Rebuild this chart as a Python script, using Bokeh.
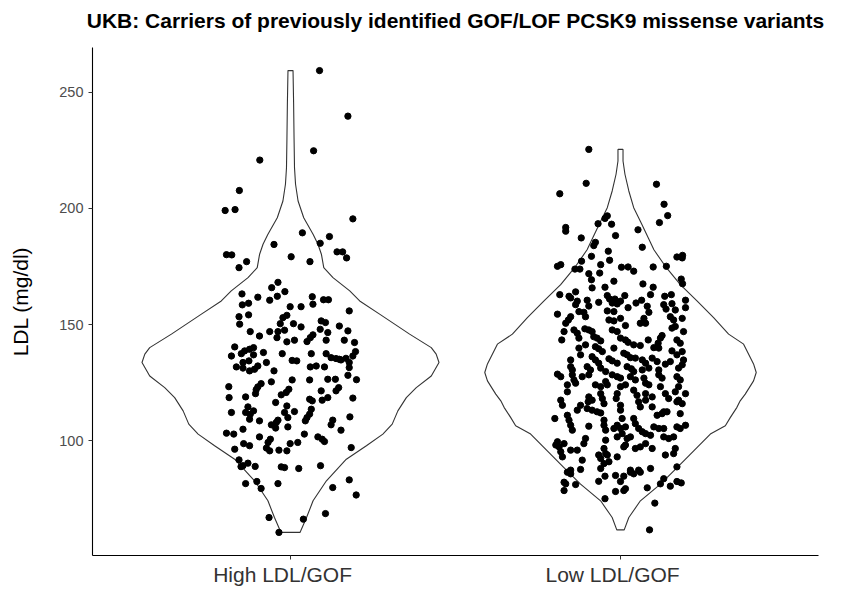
import numpy as np
from bokeh.plotting import figure
from bokeh.models import Range1d, FixedTicker, LinearAxis
from bokeh.embed import file_html
from bokeh.resources import INLINE

title_text = "UKB: Carriers of previously identified GOF/LOF PCSK9 missense variants"
categories = ["High LDL/GOF", "Low LDL/GOF"]
y_label = "LDL (mg/dl)"
y_ticks = [100, 150, 200, 250]

# (horizontal jitter in category units, LDL mg/dl)
high_points = [
    (0.088, 259.3), (0.174, 239.7), (0.07, 224.8), (-0.093, 220.8), (-0.155, 207.7), (-0.198, 199.1),
    (-0.168, 199.5), (0.189, 195.5), (0.036, 189.5), (0.118, 187.9), (0.09, 185.0), (-0.05, 184.5),
    (-0.194, 180.1), (-0.178, 180.0), (0.141, 181.3), (0.158, 181.3), (0.17, 178.7), (0.002, 179.2),
    (0.059, 177.1), (-0.133, 177.1), (-0.156, 174.5), (-0.038, 168.2), (-0.057, 165.9), (-0.017, 164.2),
    (-0.04, 162.2), (-0.147, 163.2), (-0.099, 161.8), (0.066, 162.0), (0.1, 160.7), (0.115, 160.7),
    (-0.063, 160.5),
    (0.068, 158.8), (-0.146, 158.5), (-0.127, 159.2), (-0.001, 157.7), (0.032, 157.7), (0.178, 155.9),
    (-0.156, 153.4), (-0.127, 154.2), (-0.011, 154.0), (-0.023, 153.0), (-0.154, 150.2), (-0.031, 150.4),
    (0.009, 150.4), (0.032, 149.0), (0.093, 151.6), (0.106, 150.9), (0.148, 149.4), (-0.122, 147.0),
    (-0.063, 147.0), (-0.038, 147.0), (-0.018, 147.6), (0.09, 148.0), (0.113, 146.6), (0.174, 147.3),
    (-0.094, 145.1), (-0.041, 144.4), (0.068, 145.6), (0.06, 144.4), (-0.011, 142.6), (0.012, 143.3),
    (0.05, 142.7), (0.108, 143.3), (0.163, 143.3), (0.194, 142.3), (-0.169, 140.4), (-0.139, 138.7),
    (-0.124, 139.4), (-0.112, 140.1), (-0.149, 137.5), (-0.179, 136.5), (-0.112, 137.0), (-0.082, 138.0),
    (-0.025, 137.5), (0.063, 137.5), (0.108, 137.5), (0.197, 138.4), (0.189, 136.5), (0.123, 135.8),
    (0.148, 135.1), (0.168, 135.5), (0.178, 133.7), (0.005, 134.6), (0.019, 134.4), (-0.073, 133.7),
    (-0.099, 132.2), (-0.126, 134.4), (-0.164, 131.8), (-0.144, 131.3), (0.06, 131.8), (0.078, 132.2),
    (0.103, 131.8), (-0.05, 130.1), (-0.124, 130.1), (-0.109, 130.8), (-0.144, 133.7), (0.153, 134.8),
    (0.138, 135.4), (0.178, 131.5), (0.2, 126.3), (-0.104, 122.0),
    (0.174, 128.2), (0.005, 126.2), (0.058, 126.2), (0.113, 126.5), (0.136, 126.5), (-0.058, 125.4),
    (-0.089, 124.6), (-0.099, 123.2), (-0.187, 123.3), (-0.005, 122.2), (-0.013, 120.8), (-0.028, 119.8),
    (0.146, 122.9), (0.138, 121.5), (0.093, 121.5), (0.113, 118.6), (0.096, 117.5), (0.058, 117.9),
    (0.066, 117.2), (-0.106, 120.3), (-0.136, 118.9), (-0.186, 118.6), (0.189, 118.4), (-0.045, 116.5),
    (-0.011, 115.0), (-0.129, 114.6), (-0.112, 112.9), (-0.122, 111.4), (-0.136, 112.2), (-0.179, 112.2),
    (-0.018, 112.2), (0.012, 112.6), (0.063, 113.6), (0.058, 111.5), (0.05, 110.0), (-0.008, 110.0),
    (-0.124, 109.3), (-0.094, 108.6), (-0.038, 108.9), (-0.043, 107.9), (-0.048, 106.9), (-0.058, 106.9),
    (-0.045, 105.5), (-0.008, 106.0), (0.045, 108.6), (0.128, 108.9), (0.123, 106.9), (0.18, 110.3),
    (0.153, 104.6), (-0.144, 105.0), (-0.194, 103.3), (-0.172, 102.9), (0.042, 102.9), (-0.094, 101.7),
    (-0.061, 100.7), (-0.068, 99.3), (0.083, 101.7), (0.096, 100.7), (0.103, 99.7), (-0.001, 98.8),
    (0.022, 99.3), (-0.142, 98.8), (-0.124, 97.9), (-0.169, 96.4), (-0.073, 96.9), (-0.063, 95.7),
    (-0.035, 96.0), (-0.011, 95.7), (0.184, 97.1),
    (-0.156, 91.8), (-0.144, 89.3), (-0.129, 90.4), (-0.15, 88.9), (-0.107, 89.0), (-0.028, 88.8),
    (-0.018, 88.5), (0.025, 88.1), (0.091, 89.3), (-0.136, 81.6), (-0.102, 82.5), (-0.089, 79.5),
    (-0.038, 81.6), (0.178, 83.2), (0.128, 79.9), (0.199, 76.7), (-0.065, 67.0), (0.039, 66.3),
    (0.106, 68.7), (-0.035, 60.6),
]

low_points = [
    (-0.096, 225.4), (-0.104, 210.8), (-0.184, 206.3), (0.109, 210.4), (0.132, 201.8), (0.143, 196.9),
    (0.118, 193.9), (-0.04, 196.8), (-0.047, 195.7), (-0.068, 193.4), (-0.027, 193.2),
    (-0.166, 191.8), (-0.166, 190.2), (0.053, 190.8), (-0.015, 188.3), (-0.119, 187.3), (-0.076, 185.4),
    (-0.081, 184.0), (0.066, 183.3), (-0.037, 181.6), (-0.088, 179.4), (-0.033, 177.7), (0.171, 179.1),
    (0.188, 179.8), (0.187, 178.7), (-0.118, 177.3), (-0.181, 175.8), (-0.191, 175.1), (-0.06, 175.8),
    (0.003, 174.7), (0.023, 174.8), (0.04, 173.0), (0.099, 174.8), (0.139, 175.1), (-0.138, 173.9),
    (-0.123, 173.9), (-0.096, 171.9), (-0.063, 172.2), (-0.088, 169.3), (-0.02, 168.7), (0.184, 169.6),
    (0.188, 167.6), (0.068, 167.5), (-0.086, 165.8), (-0.047, 166.1), (0.099, 166.1), (-0.136, 164.1),
    (-0.184, 162.9), (-0.156, 162.2), (-0.151, 161.5), (-0.04, 162.5), (-0.033, 161.0), (-0.017, 161.0),
    (-0.025, 159.3), (-0.01, 158.9), (0.0, 160.1), (0.013, 162.5), (-0.101, 160.5), (-0.066, 159.6),
    (-0.131, 160.1), (-0.136, 158.6), (0.047, 159.3), (0.064, 160.5), (0.091, 162.9), (0.134, 162.2),
    (0.154, 162.9), (0.197, 160.5), (0.081, 157.9), (0.131, 158.6), (0.156, 159.0),
    (-0.096, 158.0), (-0.04, 155.9), (-0.02, 155.6), (0.023, 157.3), (0.086, 155.3), (0.138, 156.7),
    (0.166, 156.3), (0.197, 157.3), (-0.126, 155.6), (-0.111, 155.3),
    (-0.191, 154.5), (-0.151, 153.4), (-0.158, 152.0), (-0.166, 150.6), (-0.106, 153.4), (0.0, 152.7),
    (0.071, 152.7), (0.06, 150.6), (0.151, 153.4), (0.161, 152.0), (0.187, 152.7), (-0.035, 152.0),
    (-0.02, 151.6), (0.076, 150.6),
    (-0.141, 147.7), (-0.131, 146.3), (-0.108, 148.2), (-0.096, 147.7), (-0.086, 147.0), (-0.171, 147.0),
    (0.015, 149.6), (-0.025, 147.7), (-0.01, 147.0), (0.156, 148.5), (0.166, 149.2), (0.191, 147.0),
    (0.126, 145.3), (0.121, 144.2), (0.084, 143.4),
    (-0.081, 144.8), (-0.071, 144.2), (-0.06, 143.0), (-0.126, 144.2), (-0.178, 143.4), (0.0, 144.2),
    (0.015, 143.4), (0.023, 142.4), (0.04, 141.3), (0.06, 141.0), (0.114, 142.0), (0.101, 140.1),
    (0.116, 139.9), (0.171, 143.4), (0.181, 142.0), (-0.126, 139.9), (-0.106, 141.3), (-0.076, 140.5),
    (-0.066, 139.6), (-0.055, 138.4), (-0.02, 139.9), (0.01, 137.7), (0.02, 137.0), (0.03, 135.8),
    (0.156, 138.7), (0.171, 137.0), (0.187, 138.4),
    (-0.121, 137.0), (-0.086, 136.2), (-0.076, 134.8), (-0.066, 133.4), (-0.151, 134.8), (-0.035, 135.3),
    (-0.025, 134.4), (-0.01, 133.4), (0.045, 135.6), (0.066, 134.8), (0.076, 133.4), (0.096, 135.6),
    (0.111, 134.1), (0.191, 134.8), (0.187, 132.7), (0.176, 131.3), (0.136, 133.0), (0.151, 134.1),
    (-0.151, 131.9), (-0.146, 130.5), (-0.101, 131.9), (-0.091, 130.5), (-0.06, 131.3), (-0.045, 129.8),
    (0.02, 131.9), (0.033, 131.0), (0.04, 129.8), (0.066, 130.5), (0.086, 131.3), (0.116, 130.5),
    (-0.191, 128.7), (-0.181, 127.6), (-0.146, 128.4), (-0.141, 126.2), (-0.136, 124.8), (-0.116, 127.6),
    (-0.096, 128.4), (-0.025, 128.4), (-0.01, 127.6), (0.0, 127.0), (0.03, 127.6), (0.045, 126.2),
    (0.071, 127.0), (0.076, 124.8), (0.086, 124.1), (0.116, 128.4), (0.126, 127.0), (0.171, 127.6),
    (0.181, 126.2), (-0.161, 124.1), (-0.076, 124.1), (-0.06, 123.3), (-0.045, 125.5), (-0.04, 124.1),
    (0.0, 123.3), (0.015, 124.1), (0.121, 123.3), (0.176, 123.3),
    (-0.161, 121.1), (-0.096, 118.9), (-0.086, 117.5), (-0.098, 116.8), (-0.06, 120.3), (-0.055, 118.2),
    (-0.01, 120.3), (-0.013, 118.2), (0.04, 121.8), (0.05, 119.6), (0.076, 120.3), (0.076, 117.5),
    (0.096, 118.9), (0.136, 120.3), (0.146, 118.2), (0.166, 121.1), (0.176, 117.5), (0.197, 120.3),
    (-0.181, 117.5), (-0.176, 115.3), (-0.121, 115.3), (-0.131, 113.2), (-0.101, 113.9), (-0.086, 113.2),
    (-0.071, 112.5), (-0.06, 112.0), (-0.05, 116.0), (0.0, 115.3), (0.0, 113.2), (0.055, 116.8),
    (0.06, 114.6), (0.096, 114.6), (0.131, 112.5), (0.141, 112.5), (0.181, 111.7), (0.187, 116.0),
    (0.171, 116.8), (0.111, 111.0), (0.126, 111.7), (-0.199, 109.6), (-0.161, 111.0), (-0.156, 108.9),
    (-0.151, 106.7), (-0.146, 104.6), (-0.05, 108.9), (-0.05, 106.7), (-0.045, 104.6), (-0.096, 106.3),
    (0.005, 109.6), (-0.01, 106.7), (-0.02, 105.3), (0.0, 105.3), (0.015, 106.0), (0.005, 103.1),
    (-0.01, 101.7), (0.04, 109.6), (0.045, 107.4), (0.055, 105.3), (0.066, 103.9), (0.076, 103.1),
    (0.091, 102.4), (0.101, 106.0), (0.116, 105.3), (0.131, 105.3), (0.171, 106.0), (0.181, 105.3),
    (0.197, 106.7), (0.131, 101.7), (0.146, 101.0), (0.161, 101.7), (-0.106, 101.0), (-0.111, 98.8),
    (-0.191, 99.6), (-0.196, 98.2), (-0.186, 97.4), (-0.181, 95.3), (-0.176, 93.1), (-0.171, 98.8),
    (-0.151, 96.0), (-0.131, 96.0), (-0.045, 100.3), (-0.05, 96.7), (-0.045, 94.5), (0.02, 101.0),
    (0.03, 101.7), (0.015, 98.2), (0.01, 97.4), (0.045, 96.7), (0.06, 97.4), (0.076, 98.8),
    (0.096, 96.7), (0.136, 93.9), (0.166, 96.7), (0.161, 94.5), (-0.066, 93.9), (-0.06, 92.4),
    (-0.04, 93.9), (-0.035, 91.0), (-0.05, 90.2), (-0.01, 93.1), (-0.116, 91.7), (-0.151, 87.4),
    (-0.121, 87.7), (0.03, 87.4), (0.055, 87.4), (0.091, 88.1), (0.171, 88.8), (-0.06, 88.1),
    (-0.161, 86.5), (-0.151, 85.8), (-0.171, 82.2), (-0.166, 81.5), (-0.136, 81.2), (-0.171, 78.6),
    (-0.066, 82.6), (-0.047, 84.8), (-0.015, 85.1), (0.0, 82.5), (0.01, 84.8), (0.03, 86.5),
    (0.04, 85.8), (0.06, 86.5), (-0.015, 78.2), (0.01, 78.6), (0.015, 79.4), (-0.047, 75.1),
    (0.081, 79.8), (0.121, 81.5), (0.131, 83.7), (0.151, 80.5), (0.171, 82.5), (0.184, 81.9),
    (0.104, 73.2), (0.088, 61.7),
]

# violin outlines: LDL level and scaled density (1 = widest violin)
high_violin_ldl = [60.6, 67.0, 74.2, 82.8, 92.1, 97.9, 102.9, 107.2, 112.9, 118.6, 122.9, 127.9,
                   133.7, 137.3, 140.1, 145.9, 150.2, 154.5, 160.2, 164.5, 170.2, 174.5, 180.3,
                   184.6, 188.9, 196.0, 203.2, 210.4, 217.5, 230.0, 245.0, 259.3]
high_violin_density = [0.064, 0.108, 0.152, 0.242, 0.376, 0.511, 0.622, 0.685, 0.723, 0.780, 0.847,
                       0.948, 1.0, 0.981, 0.948, 0.802, 0.701, 0.600, 0.466, 0.399, 0.286, 0.224,
                       0.208, 0.185, 0.152, 0.089, 0.051, 0.034, 0.027, 0.024, 0.021, 0.017]
low_violin_ldl = [61.7, 67.0, 74.2, 81.4, 88.5, 95.7, 102.9, 106.5, 110.0, 114.4, 117.2, 120.1,
                  125.8, 129.4, 133.1, 141.6, 145.9, 153.0, 160.2, 167.2, 175.1, 182.2, 193.5,
                  200.3, 207.5, 214.7, 220.4, 225.4]
low_violin_density = [0.025, 0.056, 0.134, 0.269, 0.381, 0.493, 0.605, 0.706, 0.739, 0.784, 0.806,
                      0.840, 0.896, 0.914, 0.896, 0.829, 0.728, 0.627, 0.515, 0.403, 0.302, 0.225,
                      0.141, 0.089, 0.056, 0.030, 0.017, 0.017]

groups = [high_points, low_points]
violins = [(high_violin_ldl, high_violin_density), (low_violin_ldl, low_violin_density)]
FONT = "Liberation Sans"
VIOLIN_WIDTH = 0.9
LABEL_SHIFT = 0.024  # category labels sit slightly left of their tick in the reference

all_y = np.concatenate([[pt[1] for pt in g] for g in groups])
ymin, ymax = all_y.min(), all_y.max()
pad = 0.05 * (ymax - ymin)
y0, y1 = ymin - pad, ymax + pad

p = figure(width=841, height=593, output_backend="svg", toolbar_location=None,
           x_range=Range1d(0.4, 2.6), y_range=Range1d(y0, y1),
           min_border_left=92, min_border_right=23, min_border_top=47, min_border_bottom=38)
p.title.visible = False

p.xgrid.visible = False
p.ygrid.visible = False
p.outline_line_color = None
p.background_fill_color = "white"
p.border_fill_color = "white"

for i, (lv, dv) in enumerate(violins):
    pos = i + 1
    lv = np.asarray(lv)
    hw = 0.5 * VIOLIN_WIDTH * np.asarray(dv)
    xs = np.concatenate([pos - hw, (pos + hw)[::-1]])
    ys = np.concatenate([lv, lv[::-1]])
    p.patch(xs, ys, fill_color="white", fill_alpha=0.0, line_color="#333333", line_width=1.1)

for i, g in enumerate(groups):
    pos = i + 1
    xs = [pos + pt[0] for pt in g]
    ys = [pt[1] for pt in g]
    p.scatter(xs, ys, size=6.3, fill_color="black", line_color="black")

xax = p.below[0]
yax = p.left[0]
for ax in (xax, yax):
    ax.axis_line_color = "black"
    ax.axis_line_width = 1.1
    ax.major_tick_line_color = "#333333"
    ax.major_tick_in = 0
    ax.major_tick_out = 4
    ax.minor_tick_line_color = None
    ax.major_label_text_font = FONT
xax.ticker = FixedTicker(ticks=[1, 2])
xax.major_label_text_font_size = "0px"
xax.major_label_text_color = None
xax.major_label_standoff = 0

yax.ticker = FixedTicker(ticks=y_ticks)
yax.major_label_text_font_size = "14.5px"
yax.major_label_text_color = "#4D4D4D"
yax.major_label_standoff = 5
yax.axis_label = y_label
yax.axis_label_text_font = FONT
yax.axis_label_text_font_size = "21px"
yax.axis_label_text_font_style = "normal"
yax.axis_label_text_color = "black"
yax.axis_label_standoff = 24

label_ticks = [round(i + 1 - LABEL_SHIFT, 4) for i in range(len(categories))]
cat_axis = LinearAxis(ticker=FixedTicker(ticks=label_ticks),
                      major_label_overrides={t: c for t, c in zip(label_ticks, categories)},
                      axis_line_color=None, major_tick_line_color=None, minor_tick_line_color=None,
                      major_tick_in=0, major_tick_out=0, major_label_standoff=3,
                      major_label_text_font=FONT, major_label_text_font_size="21px",
                      major_label_text_color="#333333")
p.add_layout(cat_axis, "below")

title_axis = LinearAxis(ticker=FixedTicker(ticks=[]), axis_label=title_text,
                        axis_line_color=None, major_tick_line_color=None, minor_tick_line_color=None,
                        major_tick_in=0, major_tick_out=0, major_label_text_font_size="0px",
                        major_label_standoff=0,
                        axis_label_standoff=16, axis_label_text_font=FONT,
                        axis_label_text_font_size="21px", axis_label_text_font_style="bold",
                        axis_label_text_color="black")
p.add_layout(title_axis, "above")

open("out.html", "w").write(file_html(p, INLINE))
